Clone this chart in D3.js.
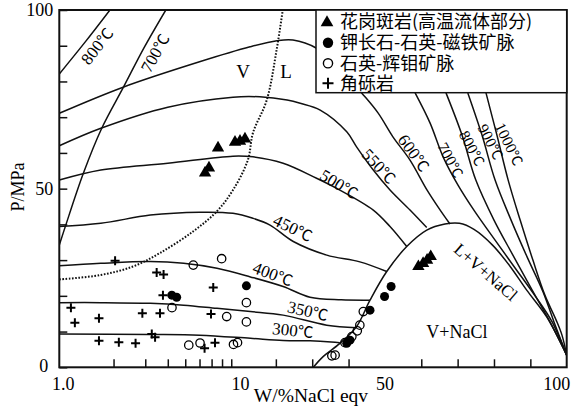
<!DOCTYPE html>
<html>
<head>
<meta charset="utf-8">
<script src="https://cdn.jsdelivr.net/npm/d3@7"></script>
<style>
  html, body { margin: 0; padding: 0; background: #fff; }
  svg text { font-family: "Liberation Serif", "DejaVu Serif", serif; fill: #000; }
  .cjk { font-family: "Noto Sans CJK SC", sans-serif !important; }
</style>
</head>
<body>
<svg id="chart" width="583" height="412"></svg>
<script>
// ---- Data: salinity W (wt% NaCl eqv) and pressure P (MPa) ----
const xTickMinorLog = [2, 3, 4, 5, 6, 7, 8, 9];
const xTickMinorLin = [20, 30, 40, 60, 70, 80, 90];
const xTickLabels = [1, 10, 50, 100];
const yTicks = [0, 10, 20, 30, 40, 50, 60, 70, 80, 90, 100];
const yTickLabels = [0, 50, 100];

// isotherms (vapour side and liquid side segments)
const iso300 = [[1, 9.3], [3.2, 9.2], [6, 9.0], [13, 8.1], [22, 7.5], [29.4, 7.4], [35.2, 7.1], [37.6, 6.9]];
const iso350 = [[1, 18.1], [1.7, 18.1], [3.2, 17.9], [4.9, 17.4], [7.5, 16.5], [13, 15.6], [22, 14.6], [34, 11.8], [42.2, 11.1]];
const iso400 = [[1, 28.4], [1.7, 29.1], [3.2, 29.6], [4.9, 29.1], [7.5, 27.7], [13, 25.3], [22, 22.6], [29.4, 19.6], [38, 18.9], [45.9, 18.8]];
const iso450 = [[1, 39.4], [1.7, 40.3], [3.2, 42.6], [6, 43.4], [9.2, 43.1], [13.7, 41.7], [18.4, 39.8], [24.8, 35.2], [34, 31.4], [43.1, 29.5], [50.5, 26.8]];
const iso500 = [[1, 52.4], [1.7, 55.2], [4, 57.1], [9.2, 59.1], [13.7, 58.9], [22, 57.1], [31.2, 52.9], [37.6, 49.6], [46.8, 44.0], [51.4, 39.4], [56.0, 33.8]];
const iso550 = [[1, 62.0], [1.7, 66.9], [4, 72.8], [9.2, 75.6], [15.6, 75.7], [23.1, 74.8], [26.7, 73.9], [32.2, 72.0], [39.5, 65.9], [42.2, 61.7], [46.8, 55.2], [51.4, 49.6], [56.9, 44.0], [61.5, 39.1]];
const iso600 = [[1, 71.1], [2.26, 78.4], [6, 85.5], [12.9, 89.7], [20.3, 91.4], [24.7, 91.6], [31.2, 89.3], [37.6, 83.8], [43.6, 76.8], [48.1, 71.2], [52.2, 64.5], [56.9, 58.0], [61.6, 49.6], [65.2, 44.0], [67.9, 40.1]];
const iso700a = [[1, 34.2], [1.08, 39.4], [1.36, 54.3], [1.72, 66.9], [2.27, 78.4], [2.95, 89.4], [3.9, 100]];
const iso700b = [[58.3, 76.8], [62.4, 68.4], [66.0, 58.9], [70.1, 51.0], [74.8, 43.5], [80.3, 35.6], [85.8, 27.8], [91.3, 20.0], [96.0, 12.7], [100, 3.4]];
const iso800a = [[1, 82.1], [1.39, 91.0], [1.91, 100]];
const iso800b = [[66.8, 76.8], [71.2, 65.0], [75.0, 52.4], [80.0, 41.2], [85.2, 31.4], [90.5, 21.6], [95.4, 12.7], [100, 3.4]];
const iso900 = [[72.8, 76.8], [76.7, 65.0], [80.3, 52.4], [84.7, 41.2], [89.1, 30.9], [93.5, 21.1], [96.5, 12.7], [100, 3.4]];
const iso1000 = [[77.8, 76.8], [80.8, 65.0], [83.9, 52.4], [87.2, 41.2], [90.7, 30.0], [94.0, 20.2], [97.1, 13.2], [98.7, 9.0], [100, 3.4]];

// halite saturation boundary (L+V+NaCl / V+NaCl dome)
const haliteDome = [[30.3, 0], [33.0, 3.0], [37.6, 6.7], [42.2, 11.4], [45.9, 18.8], [50.5, 26.8], [56.0, 33.8], [61.5, 38.4], [66.5, 40.1], [70.5, 40.3], [74.5, 38.6], [79.6, 34.2], [84.4, 28.3], [89.0, 21.6], [94.5, 14.1], [100, 3.4]];
// V / L boundary (dotted)
const vlCurve = [[1, 24.6], [1.68, 25.8], [2.56, 28.2], [3.62, 32.0], [5.52, 38.0], [7.47, 43.6], [9.2, 49.6], [12.3, 58.0], [13.7, 65.6], [17.5, 74.8], [20.2, 88.8], [21.9, 100]];

// fluid inclusion homogenisation data
const granitePorphyry = [[7.6, 61.4], [9.44, 63.0], [10.14, 63.3], [11.5, 63.9], [6.44, 54.4], [6.77, 55.8], [59.2, 28.2], [60.5, 29.1], [61.6, 30.0], [62.6, 31.0]];
const kfsQtzMagVein = [[4.21, 20.2], [4.48, 19.6], [11.9, 22.8], [51.7, 22.6], [49.9, 19.8], [45.9, 16.0], [40.4, 7.6], [39.5, 6.7]];
const qtzMolyVein = [[5.54, 28.6], [7.96, 30.4], [11.9, 18.1], [11.9, 12.7], [8.49, 14.2], [4.22, 16.7], [5.23, 6.2], [6.04, 6.8], [9.26, 6.4], [9.75, 6.9], [44.05, 15.6], [43.1, 11.8], [42.4, 10.2], [40.9, 8.6], [39.0, 6.9], [36.3, 3.4], [35.4, 3.2]];
const breccia = [[2.04, 29.8], [3.47, 26.5], [3.79, 26.0], [3.76, 20.2], [7.15, 22.3], [1.16, 16.7], [1.22, 12.5], [1.66, 13.7], [2.89, 15.1], [3.62, 15.1], [6.95, 14.9], [3.26, 9.3], [3.40, 8.4], [1.66, 7.4], [2.14, 7.0], [2.65, 6.7], [6.40, 5.3], [7.31, 6.9]];

const legendLabels = ["花岗斑岩(高温流体部分)", "钾长石-石英-磁铁矿脉", "石英-辉钼矿脉", "角砾岩"];

// ---- Layout ----
const svg = d3.select("#chart");
const plotLeft = 59.3, plotRight = 566.7, plotTop = 10, plotBottom = 367.3;

// salinity axis: logarithmic 1–10, linear 10–100
const xLog = d3.scaleLog().domain([1, 10]).range([plotLeft, 239.5]);
const xLin = d3.scaleLinear().domain([10, 100]).range([239.5, plotRight]);
const x = v => (v <= 10 ? xLog(v) : xLin(v));
const y = d3.scaleLinear().domain([0, 100]).range([plotBottom, plotTop]);

svg.append("clipPath").attr("id", "plotClip")
  .append("rect").attr("x", plotLeft).attr("y", plotTop)
  .attr("width", plotRight - plotLeft).attr("height", plotBottom - plotTop);

const plot = svg.append("g").attr("clip-path", "url(#plotClip)");
const line = d3.line().x(d => x(d[0])).y(d => y(d[1])).curve(d3.curveCatmullRom.alpha(0.5));

// isotherms
const isotherms = [iso300, iso350, iso400, iso450, iso500, iso550, iso600,
  iso700a, iso700b, iso800a, iso800b, iso900, iso1000];
plot.selectAll("path.iso").data(isotherms).join("path")
  .attr("class", "iso")
  .attr("d", d => line(d))
  .attr("fill", "none").attr("stroke", "#111").attr("stroke-width", 1.5);

plot.append("path").attr("d", line(haliteDome))
  .attr("fill", "none").attr("stroke", "#111").attr("stroke-width", 1.5);

plot.append("path").attr("d", line(vlCurve))
  .attr("fill", "none").attr("stroke", "#111").attr("stroke-width", 2)
  .attr("stroke-dasharray", "1.6,1.6");

// ---- Axes (ticks point inward) ----
const axisBottomLog = d3.axisBottom(xLog).tickValues(xTickMinorLog).tickSize(-8).tickFormat("");
const axisBottomLin = d3.axisBottom(xLin).tickValues(xTickMinorLin).tickSize(-8).tickFormat("");
[axisBottomLog, axisBottomLin].forEach(ax => {
  const g = svg.append("g").attr("transform", `translate(0,${plotBottom})`).call(ax);
  g.select(".domain").remove();
  g.selectAll("line").attr("stroke", "#111").attr("stroke-width", 1.5);
});
const yAxis = d3.axisLeft(y).tickValues(yTicks).tickSize(-8).tickPadding(6)
  .tickFormat(d => (yTickLabels.includes(d) ? d : ""));
const gy = svg.append("g").attr("transform", `translate(${plotLeft},0)`).call(yAxis);
gy.select(".domain").remove();
gy.selectAll("line").attr("stroke", "#111").attr("stroke-width", 1.5);
gy.selectAll("text").attr("font-size", 18).attr("font-family", "Liberation Serif");
gy.selectAll(".tick").filter(d => d === 0).select("text").attr("dx", -5).attr("dy", "0.25em");

// x tick labels
const xLabelNudge = { 1: 4, 10: 1, 50: 0, 100: -10 };
svg.append("g").selectAll("text").data(xTickLabels).join("text")
  .attr("x", d => x(d) + xLabelNudge[d]).attr("y", 390)
  .attr("text-anchor", "middle").attr("font-size", 18)
  .text(d => (d === 1 ? "1.0" : d));

// frame
svg.append("rect").attr("x", plotLeft).attr("y", plotTop)
  .attr("width", plotRight - plotLeft).attr("height", plotBottom - plotTop)
  .attr("fill", "none").attr("stroke", "#111").attr("stroke-width", 2);

// axis titles
svg.append("text").attr("x", 311).attr("y", 402).attr("text-anchor", "middle")
  .attr("font-size", 19.5).text("W/%NaCl eqv");
svg.append("text").attr("transform", "translate(24,187) rotate(-90)").attr("text-anchor", "middle")
  .attr("font-size", 18).text("P/MPa");

// ---- Data markers ----
const sym = plot.append("g");
sym.selectAll("path.tri").data(granitePorphyry).join("path").attr("class", "tri")
  .attr("transform", d => `translate(${x(d[0])},${y(d[1])})`)
  .attr("d", d3.symbol(d3.symbolTriangle, 66)).attr("fill", "#000");
sym.selectAll("circle.dot").data(kfsQtzMagVein).join("circle").attr("class", "dot")
  .attr("cx", d => x(d[0])).attr("cy", d => y(d[1])).attr("r", 4.5).attr("fill", "#000");
sym.selectAll("circle.ring").data(qtzMolyVein).join("circle").attr("class", "ring")
  .attr("cx", d => x(d[0])).attr("cy", d => y(d[1])).attr("r", 4.2)
  .attr("fill", "none").attr("stroke", "#000").attr("stroke-width", 1.3);
sym.selectAll("path.cross").data(breccia).join("path").attr("class", "cross")
  .attr("transform", d => `translate(${x(d[0])},${y(d[1])})`)
  .attr("d", "M-4.5,0H4.5M0,-4.5V4.5").attr("stroke", "#000").attr("stroke-width", 2);

// ---- Field and isotherm labels ----
const isoLabels = [
  { t: "800", w: 1.62, p: 89.9, a: -52, s: 17 },
  { t: "700", w: 3.40, p: 88.0, a: -61, s: 17 },
  { t: "600", w: 58.0, p: 60.0, a: 54, s: 17 },
  { t: "550", w: 48.4, p: 56.3, a: 47, s: 17 },
  { t: "500", w: 37.4, p: 51.3, a: 31, s: 17 },
  { t: "450", w: 24.7, p: 39.0, a: 26, s: 17 },
  { t: "400", w: 19.2, p: 26.1, a: 21, s: 17 },
  { t: "350", w: 28.8, p: 15.8, a: 13, s: 17 },
  { t: "300", w: 24.7, p: 10.4, a: 6, s: 17 },
  { t: "700", w: 68.1, p: 58.0, a: 62, s: 15.5 },
  { t: "800", w: 74.0, p: 61.3, a: 62, s: 15.5 },
  { t: "900", w: 79.1, p: 63.1, a: 63, s: 15.5 },
  { t: "1000", w: 84.2, p: 62.5, a: 64, s: 15.5 }
];
const isoText = svg.append("g").selectAll("text").data(isoLabels).join("text")
  .attr("transform", d => `translate(${x(d.w)},${y(d.p)}) rotate(${d.a})`)
  .attr("text-anchor", "middle").attr("dy", "0.35em").attr("font-size", d => d.s);
isoText.append("tspan").text(d => d.t);
isoText.append("tspan").attr("class", "cjk").attr("font-size", d => d.s * 0.92).text("℃");

const fieldLabels = [
  { t: "L+V+NaCl", w: 77.8, p: 26.7, a: 41, s: 17 },
  { t: "V", w: 10.96, p: 82.7, a: 0, s: 19 },
  { t: "L", w: 22.8, p: 82.7, a: 0, s: 19 },
  { t: "V+NaCl", w: 69.8, p: 9.9, a: 0, s: 18 }
];
svg.append("g").selectAll("text").data(fieldLabels).join("text")
  .attr("transform", d => `translate(${x(d.w)},${y(d.p)}) rotate(${d.a})`)
  .attr("text-anchor", "middle").attr("dy", "0.35em").attr("font-size", d => d.s)
  .text(d => d.t);

// ---- Legend ----
const lg = svg.append("g");
lg.append("rect").attr("x", 316).attr("y", plotTop).attr("width", plotRight - 316).attr("height", 82.7)
  .attr("fill", "#fff").attr("stroke", "#111").attr("stroke-width", 1.5);
const rowY = [21.7, 42.7, 63.3, 83.3];
lg.append("path").attr("transform", `translate(327,${rowY[0] + 1})`).attr("d", d3.symbol(d3.symbolTriangle, 70)).attr("fill", "#000");
lg.append("circle").attr("cx", 328).attr("cy", rowY[1]).attr("r", 5.2).attr("fill", "#000");
lg.append("circle").attr("cx", 328).attr("cy", rowY[2]).attr("r", 4.6).attr("fill", "none").attr("stroke", "#000").attr("stroke-width", 1.4);
lg.append("path").attr("transform", `translate(328,${rowY[3]})`).attr("d", "M-5.5,0H5.5M0,-5.5V5.5").attr("stroke", "#000").attr("stroke-width", 2);
lg.selectAll("text.lt").data(legendLabels).join("text")
  .attr("class", "cjk lt").attr("x", 340).attr("y", (d, i) => rowY[i]).attr("dy", "0.36em")
  .attr("font-size", 18).text(d => d);
</script>
</body>
</html>
